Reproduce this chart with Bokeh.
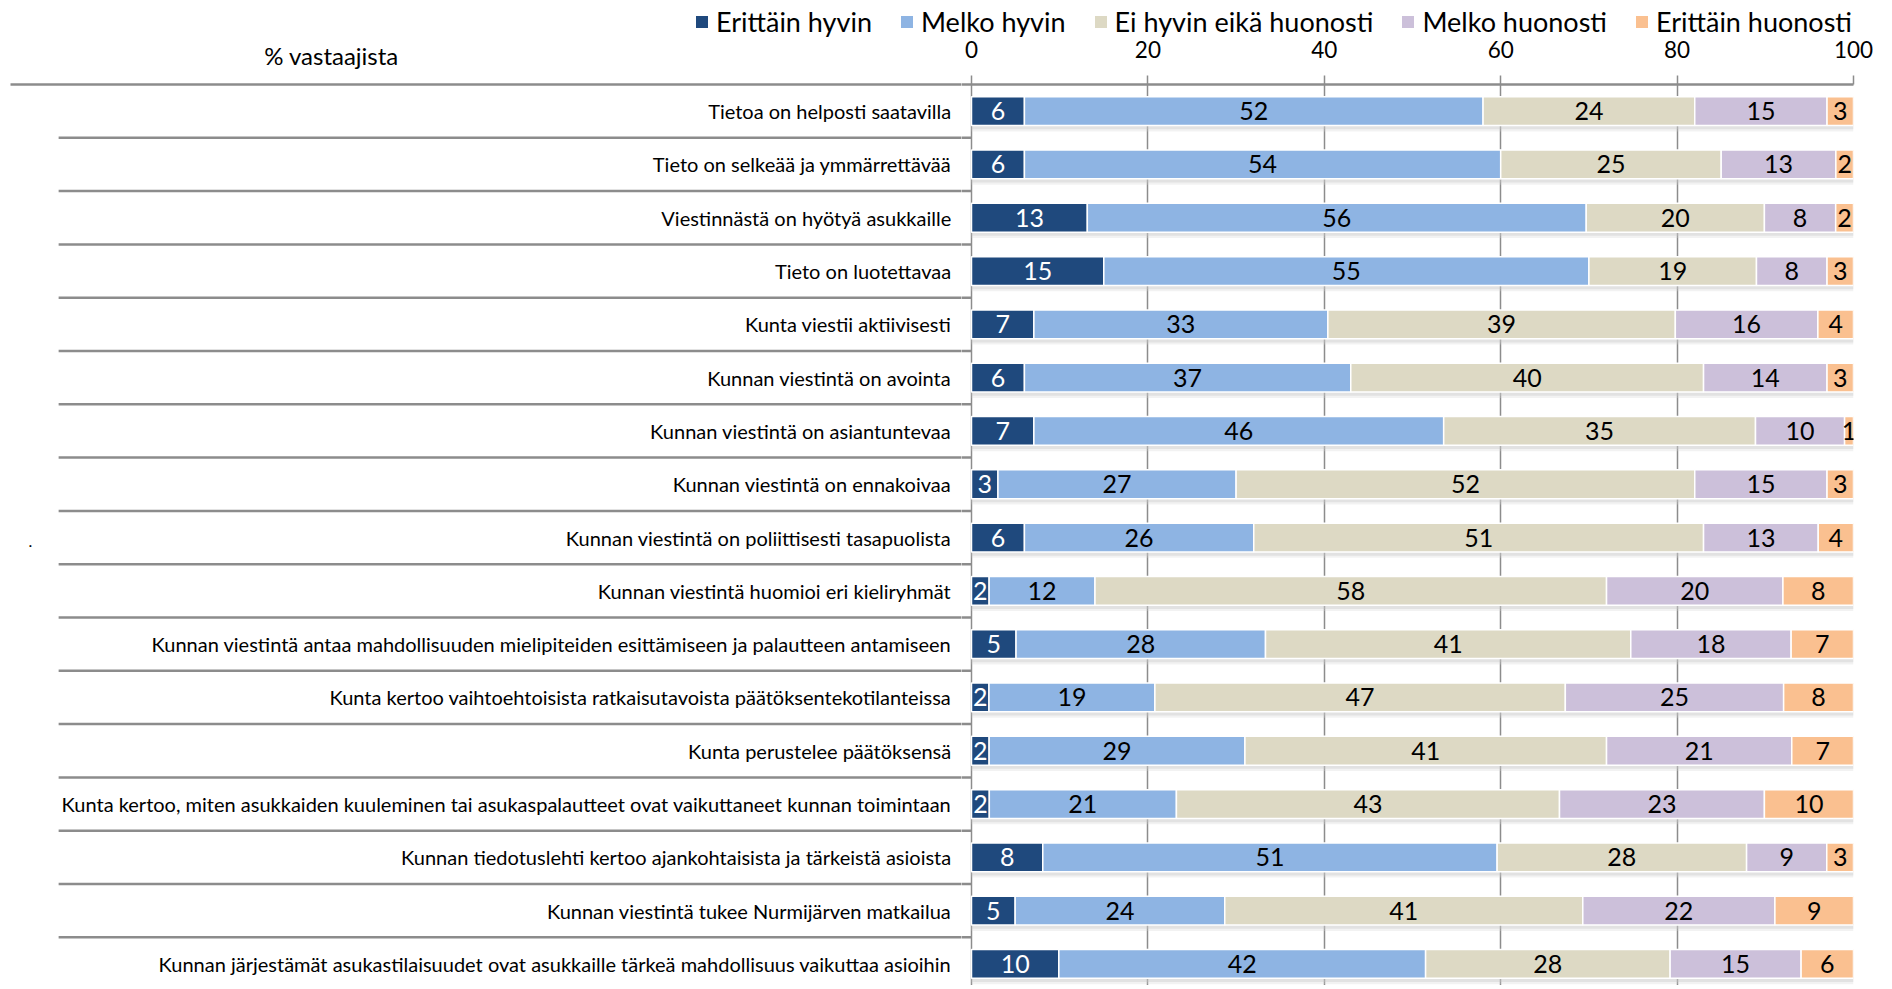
import numpy as np
from bokeh.plotting import figure
from bokeh.layouts import column, row
from bokeh.models import Range1d, FixedTicker, Legend, LegendItem
from bokeh.core.properties import value
from bokeh.embed import file_html
from bokeh.resources import INLINE

categories = [
    "Tietoa on helposti saatavilla",
    "Tieto on selkeää ja ymmärrettävää",
    "Viestinnästä on hyötyä asukkaille",
    "Tieto on luotettavaa",
    "Kunta viestii aktiivisesti",
    "Kunnan viestintä on avointa",
    "Kunnan viestintä on asiantuntevaa",
    "Kunnan viestintä on ennakoivaa",
    "Kunnan viestintä on poliittisesti tasapuolista",
    "Kunnan viestintä huomioi eri kieliryhmät",
    "Kunnan viestintä antaa mahdollisuuden mielipiteiden esittämiseen ja palautteen antamiseen",
    "Kunta kertoo vaihtoehtoisista ratkaisutavoista päätöksentekotilanteissa",
    "Kunta perustelee päätöksensä",
    "Kunta kertoo, miten asukkaiden kuuleminen tai asukaspalautteet ovat vaikuttaneet kunnan toimintaan",
    "Kunnan tiedotuslehti kertoo ajankohtaisista ja tärkeistä asioista",
    "Kunnan viestintä tukee Nurmijärven matkailua",
    "Kunnan järjestämät asukastilaisuudet ovat asukkaille tärkeä mahdollisuus vaikuttaa asioihin",
]
erittain_hyvin = [6, 6, 13, 15, 7, 6, 7, 3, 6, 2, 5, 2, 2, 2, 8, 5, 10]
melko_hyvin = [52, 54, 56, 55, 33, 37, 46, 27, 26, 12, 28, 19, 29, 21, 51, 24, 42]
ei_hyvin_eika_huonosti = [24, 25, 20, 19, 39, 40, 35, 52, 51, 58, 41, 47, 41, 43, 28, 41, 28]
melko_huonosti = [15, 13, 8, 8, 16, 14, 10, 15, 13, 20, 18, 25, 21, 23, 9, 22, 15]
erittain_huonosti = [3, 2, 2, 3, 4, 3, 1, 3, 4, 8, 7, 8, 7, 10, 3, 9, 6]
series_names = ["Erittäin hyvin", "Melko hyvin", "Ei hyvin eikä huonosti",
                "Melko huonosti", "Erittäin huonosti"]
x_ticks = [0, 20, 40, 60, 80, 100]
axis_title = "% vastaajista"

colors = ["#1F497D", "#8EB4E3", "#DDD9C4", "#CCC0DA", "#FAC090"]
label_colors = ["white", "black", "black", "black", "black"]
FONT = "Lato"
GRAY = "#8c8c8c"

vals = np.array([erittain_hyvin, melko_hyvin, ei_hyvin_eika_huonosti,
                 melko_huonosti, erittain_huonosti], dtype=float).T
pct = vals / vals.sum(axis=1, keepdims=True) * 100.0
rights = np.cumsum(pct, axis=1)
lefts = rights - pct
n = len(categories)
ypos = np.arange(n) + 0.5
bounds = np.arange(1, n + 1)

# geometry (pixels)
TOTAL_W = 1880
HEAD_W = 694          # width of the header figure (legend starts here)
TOP_H = 74            # height of the top strip (legend + tick labels)
LEG_FRAME = 40        # frame height of the legend figure
MAIN_H = 911          # height of the lower part
TOP = 10              # from top of lower part to the axis line
ROW = 53.3            # pixels per row
ZERO_X = 971          # x position of 0 %
LEFT_W = 961          # width of the label figure
RIGHT_W = TOTAL_W - LEFT_W
RIGHT_FRAME = 892     # frame width of the bar figure (from 961 to 1853)
PX = (RIGHT_FRAME - (ZERO_X - LEFT_W)) / 100.0   # pixels per percent

y_rows = (MAIN_H - TOP) / ROW


def clean(fig):
    fig.outline_line_color = None
    fig.background_fill_color = "white"
    fig.border_fill_color = "white"
    fig.xgrid.grid_line_color = None
    fig.ygrid.grid_line_color = None
    try:
        fig.frame_align = False
    except Exception:
        pass


# ---------------- header (top-left) ----------------
f_head = figure(width=HEAD_W, height=TOP_H, output_backend="svg",
                toolbar_location=None, x_axis_location=None,
                y_axis_location=None, x_range=Range1d(0, HEAD_W),
                y_range=Range1d(TOP_H, 0), min_border=0)
clean(f_head)
f_head.text(x=[331], y=[55], text=[axis_title], text_align="center",
            text_baseline="middle", text_font=value(FONT),
            text_font_size="24px", text_color="black")

# ---------------- legend + tick labels (top-right) ----------------
LEG_W = TOTAL_W - HEAD_W
f_leg = figure(width=LEG_W, height=TOP_H, output_backend="svg",
               toolbar_location=None, x_axis_location="below",
               y_axis_location=None,
               x_range=Range1d(-(ZERO_X - HEAD_W) / PX,
                               (LEG_W - (ZERO_X - HEAD_W)) / PX),
               y_range=Range1d(100, 101), min_border_left=0,
               min_border_right=0, min_border_top=0,
               min_border_bottom=TOP_H - LEG_FRAME)
clean(f_leg)
lax = f_leg.xaxis[0]
lax.ticker = FixedTicker(ticks=x_ticks)
lax.axis_line_color = None
lax.major_tick_line_color = None
lax.minor_tick_line_color = None
lax.major_tick_out = 0
lax.major_tick_in = 0
lax.major_label_standoff = 0
lax.major_label_text_font = FONT
lax.major_label_text_font_size = "22.5px"
lax.major_label_text_color = "black"

items = []
for k, name in enumerate(series_names):
    r = f_leg.hbar(y=ypos, left=lefts[:, k], right=rights[:, k], height=0.54,
                   fill_color=colors[k], line_color=None)
    r.visible = False   # legend proxy only
    items.append(LegendItem(label=name, renderers=[r]))
legend = Legend(items=items, orientation="horizontal", location=(0, 2.5),
                padding=0, margin=0, spacing=27, label_standoff=7,
                glyph_width=15, glyph_height=15,
                label_text_font=FONT, label_text_font_size="27px",
                label_text_color="black", border_line_color=None,
                background_fill_alpha=0, click_policy="none",
                inactive_fill_alpha=0)
f_leg.add_layout(legend, "center")

# ---------------- label area ----------------
f_left = figure(width=LEFT_W, height=MAIN_H, output_backend="svg",
                toolbar_location=None, x_axis_location=None,
                y_axis_location=None,
                x_range=Range1d(-ZERO_X / PX, (LEFT_W - ZERO_X) / PX),
                y_range=Range1d(y_rows, -TOP / ROW), min_border=0)
clean(f_left)
f_left.segment(x0=[-(ZERO_X - 10) / PX], x1=[0], y0=[0], y1=[0],
               line_color=GRAY, line_width=2.5)
f_left.segment(x0=np.full(n, -103.5), x1=np.zeros(n), y0=bounds, y1=bounds,
               line_color=GRAY, line_width=2.5)
f_left.text(x=np.full(n, -2.3), y=ypos, text=categories, text_align="right",
            text_baseline="middle", text_font=value(FONT),
            text_font_size="20px", text_color="black")
f_left.text(x=[-106.7], y=[8.57], text=["."], text_align="center",
            text_baseline="alphabetic", text_font=value(FONT),
            text_font_size="16px", text_color="black")

# ---------------- bars ----------------
f_bar = figure(width=RIGHT_W, height=MAIN_H, output_backend="svg",
               toolbar_location=None,
               x_range=Range1d(-(ZERO_X - LEFT_W) / PX, 100),
               y_range=Range1d(y_rows, 0),
               x_axis_location="above", y_axis_location=None,
               min_border_left=0, min_border_right=RIGHT_W - RIGHT_FRAME,
               min_border_top=TOP, min_border_bottom=0)
clean(f_bar)
ax = f_bar.xaxis[0]
ax.ticker = FixedTicker(ticks=x_ticks)
ax.axis_line_color = GRAY
ax.axis_line_width = 2.5
ax.major_tick_line_color = GRAY
ax.major_tick_line_width = 1.5
ax.major_tick_out = 9
ax.major_tick_in = 0
ax.minor_tick_line_color = None
ax.major_label_standoff = 0
ax.major_label_text_font_size = "0px"
ax.major_label_text_alpha = 0
f_bar.xgrid.grid_line_color = GRAY
f_bar.xgrid.grid_line_width = 1.5

f_bar.segment(x0=np.full(n, -103.5), x1=np.zeros(n), y0=bounds, y1=bounds,
              line_color=GRAY, line_width=2.5)

# shadows
f_bar.hbar(y=ypos + 0.07, left=0, right=100, height=0.54, fill_color="#bdbdbd",
           fill_alpha=0.35, line_color=None)
f_bar.hbar(y=ypos + 0.11, left=0, right=100, height=0.54, fill_color="#d5d5d5",
           fill_alpha=0.3, line_color=None)

for k, name in enumerate(series_names):
    f_bar.hbar(y=ypos, left=lefts[:, k], right=rights[:, k], height=0.54,
               fill_color=colors[k], line_color="white", line_width=1.5)
    f_bar.text(x=(lefts[:, k] + rights[:, k]) / 2, y=ypos,
               text=[str(int(v)) for v in vals[:, k]],
               text_align="center", text_baseline="middle",
               text_font=value(FONT), text_font_size="25px",
               text_color=label_colors[k])

layout = column(row(f_head, f_leg, spacing=0),
                row(f_left, f_bar, spacing=0), spacing=0)
open("out.html", "w").write(file_html(layout, INLINE))
